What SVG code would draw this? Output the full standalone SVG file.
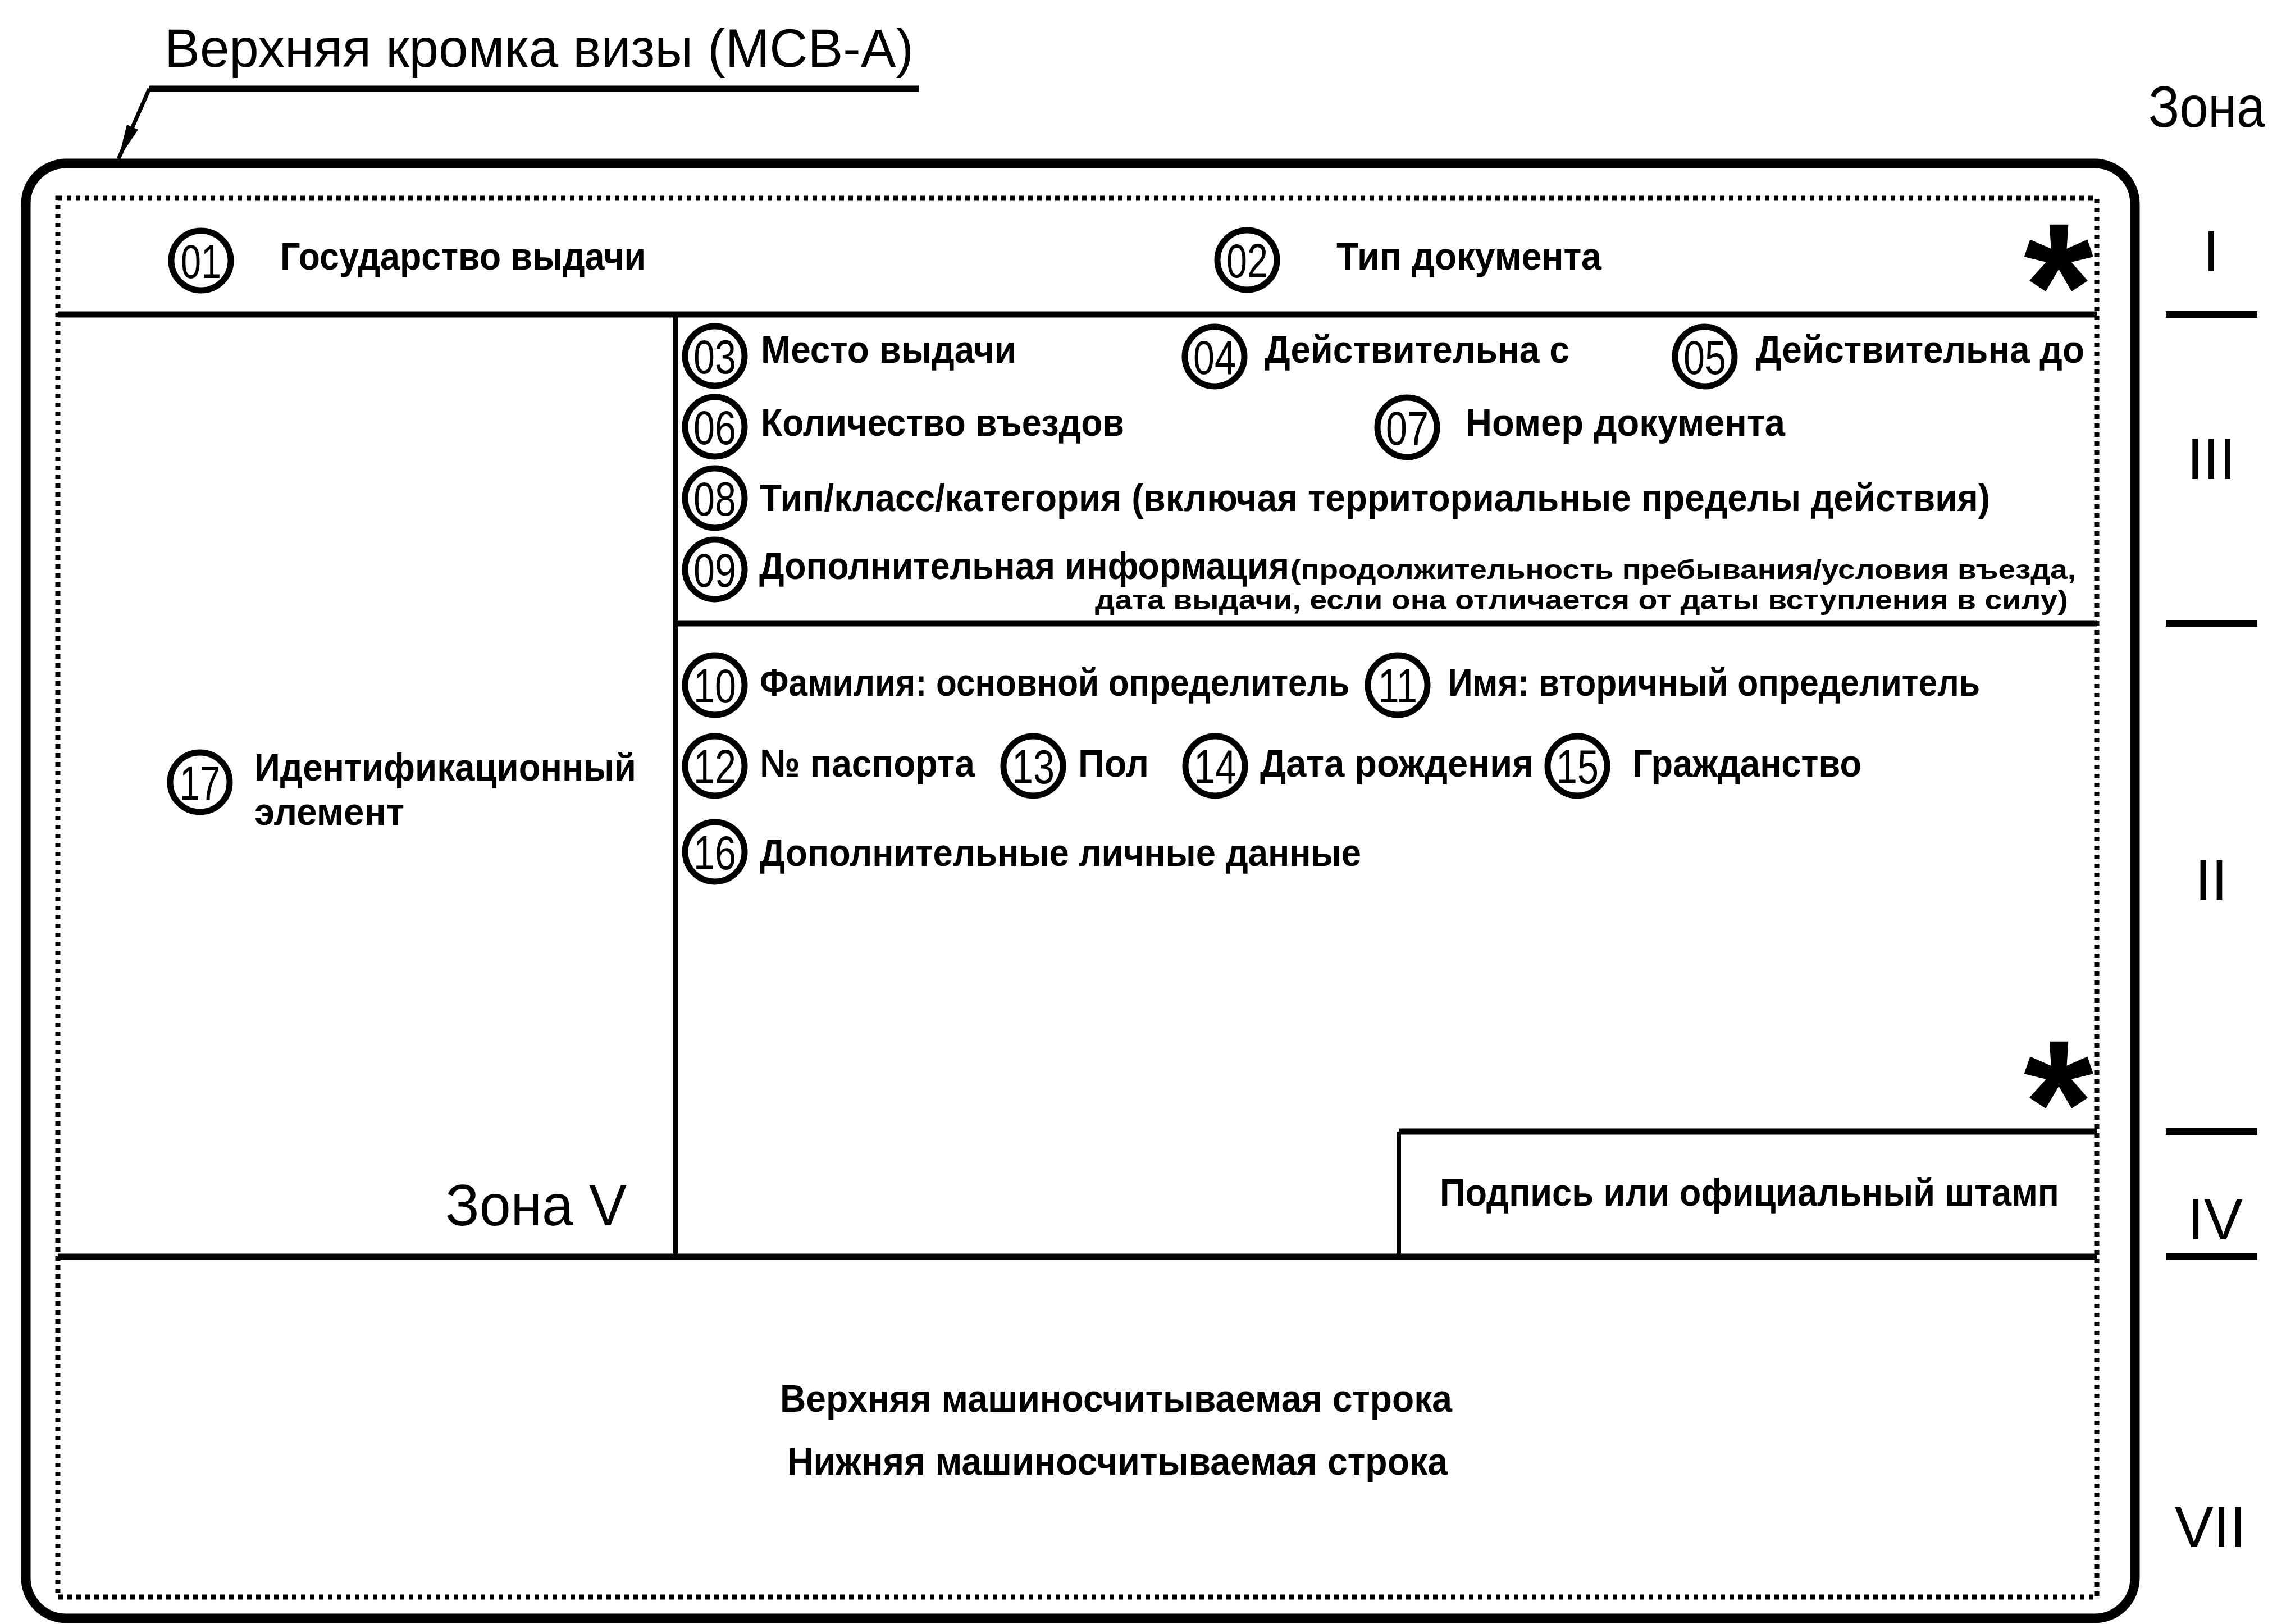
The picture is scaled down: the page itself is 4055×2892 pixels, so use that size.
<svg xmlns="http://www.w3.org/2000/svg" width="4055" height="2892" viewBox="0 0 4055 2892">
<defs>
<style>
.bg{fill:#fff}
.outer{fill:none;stroke:#000;stroke-width:17}
.dotted{fill:none;stroke:#000;stroke-width:9;stroke-dasharray:8 8}
.hline{stroke:#000;stroke-width:11;fill:none}
.vline{stroke:#000;stroke-width:8;fill:none}
.tick{stroke:#000;stroke-width:12;fill:none}
.ring{fill:none;stroke:#000;stroke-width:11}
.num{font-family:"Liberation Sans",Arial,sans-serif;font-size:86px;fill:#000;text-anchor:middle}
.lbl{font-family:"Liberation Sans",Arial,sans-serif;font-size:69px;font-weight:bold;fill:#000}
.small{font-family:"Liberation Sans",Arial,sans-serif;font-size:48px;font-weight:bold;fill:#000}
.zone{font-family:"Liberation Sans",Arial,sans-serif;font-size:104px;fill:#000}
.zr{font-family:"Liberation Sans",Arial,sans-serif;font-size:104px;fill:#000;text-anchor:middle}
.title{font-family:"Liberation Sans",Arial,sans-serif;font-size:96px;fill:#000}
.star{font-family:"Liberation Sans",Arial,sans-serif;font-size:320px;font-weight:bold;fill:#000;text-anchor:middle}
.lead{stroke:#000;fill:none}
</style>
<marker id="arrow" markerUnits="userSpaceOnUse" viewBox="0 0 62 22" refX="62" refY="11" markerWidth="62" markerHeight="22" orient="auto">
<path d="M0,0 L62,11 L0,22 z" fill="#000"/>
</marker>
</defs>
<rect class="bg" x="0" y="0" width="4055" height="2892"/>

<g id="title">
<text class="title" x="293" y="119" textLength="1334" lengthAdjust="spacingAndGlyphs">Верхняя кромка визы (МСВ-А)</text>
</g>

<g id="visa-frame">
<rect class="outer" x="46" y="291" width="3756" height="2591" rx="72" ry="72"/>
<rect class="dotted" x="103" y="353" width="3631" height="2491"/>
<line class="hline" x1="103" y1="560" x2="3734" y2="560"/>
<line class="hline" x1="1203" y1="1110" x2="3734" y2="1110"/>
<line class="hline" x1="2491" y1="2015" x2="3734" y2="2015"/>
<line class="hline" x1="103" y1="2238" x2="3734" y2="2238"/>
<line class="vline" x1="1203" y1="560" x2="1203" y2="2238"/>
<line class="vline" x1="2491" y1="2015" x2="2491" y2="2238"/>
</g>

<g id="zone-scale">
<text class="zone" x="3826" y="226" textLength="208" lengthAdjust="spacingAndGlyphs">Зона</text>
<text class="zr" x="3938" y="483">I</text>
<line class="tick" x1="3857" y1="560" x2="4020" y2="560"/>
<text class="zr" x="3938" y="853">III</text>
<line class="tick" x1="3857" y1="1110" x2="4020" y2="1110"/>
<text class="zr" x="3938" y="1603">II</text>
<line class="tick" x1="3857" y1="2015" x2="4020" y2="2015"/>
<text class="zr" x="3945" y="2207">IV</text>
<line class="tick" x1="3857" y1="2238" x2="4020" y2="2238"/>
<text class="zr" x="3936" y="2755">VII</text>
</g>

<g id="zone-I">
<g id="field-01">
<circle class="ring" cx="358" cy="464" r="53"/>
<text class="num" x="358" y="495" textLength="72" lengthAdjust="spacingAndGlyphs">01</text>
<text class="lbl" x="499" y="480" textLength="651" lengthAdjust="spacingAndGlyphs">Государство выдачи</text>
</g>
<g id="field-02">
<circle class="ring" cx="2221" cy="463" r="53"/>
<text class="num" x="2221" y="494" textLength="74" lengthAdjust="spacingAndGlyphs">02</text>
<text class="lbl" x="2380" y="480" textLength="472" lengthAdjust="spacingAndGlyphs">Тип документа</text>
</g>
<text id="star-1" class="star" x="3666" y="620">*</text>
</g>

<g id="zone-III">
<g id="field-03">
<circle class="ring" cx="1273" cy="634" r="53"/>
<text class="num" x="1273" y="665" textLength="76" lengthAdjust="spacingAndGlyphs">03</text>
<text class="lbl" x="1355" y="646" textLength="455" lengthAdjust="spacingAndGlyphs">Место выдачи</text>
</g>
<g id="field-04">
<circle class="ring" cx="2163" cy="635" r="53"/>
<text class="num" x="2163" y="666" textLength="76" lengthAdjust="spacingAndGlyphs">04</text>
<text class="lbl" x="2252" y="646" textLength="543" lengthAdjust="spacingAndGlyphs">Действительна с</text>
</g>
<g id="field-05">
<circle class="ring" cx="3036" cy="635" r="53"/>
<text class="num" x="3036" y="666" textLength="76" lengthAdjust="spacingAndGlyphs">05</text>
<text class="lbl" x="3127" y="646" textLength="585" lengthAdjust="spacingAndGlyphs">Действительна до</text>
</g>
<g id="field-06">
<circle class="ring" cx="1273" cy="760" r="53"/>
<text class="num" x="1273" y="791" textLength="76" lengthAdjust="spacingAndGlyphs">06</text>
<text class="lbl" x="1355" y="776" textLength="647" lengthAdjust="spacingAndGlyphs">Количество въездов</text>
</g>
<g id="field-07">
<circle class="ring" cx="2506" cy="761" r="53"/>
<text class="num" x="2506" y="792" textLength="76" lengthAdjust="spacingAndGlyphs">07</text>
<text class="lbl" x="2610" y="776" textLength="569" lengthAdjust="spacingAndGlyphs">Номер документа</text>
</g>
<g id="field-08">
<circle class="ring" cx="1273" cy="887" r="53"/>
<text class="num" x="1273" y="918" textLength="76" lengthAdjust="spacingAndGlyphs">08</text>
<text class="lbl" x="1353" y="910" textLength="2191" lengthAdjust="spacingAndGlyphs">Тип/класс/категория (включая территориальные пределы действия)</text>
</g>
<g id="field-09">
<circle class="ring" cx="1273" cy="1014" r="53"/>
<text class="num" x="1273" y="1045" textLength="76" lengthAdjust="spacingAndGlyphs">09</text>
<text class="lbl" x="1352" y="1031" textLength="944" lengthAdjust="spacingAndGlyphs">Дополнительная информация</text>
<text class="small" x="2298" y="1031" textLength="1399" lengthAdjust="spacingAndGlyphs">(продолжительность пребывания/условия въезда,</text>
<text class="small" x="1950" y="1085" textLength="1733" lengthAdjust="spacingAndGlyphs">дата выдачи, если она отличается от даты вступления в силу)</text>
</g>
</g>

<g id="zone-II">
<g id="field-10">
<circle class="ring" cx="1273" cy="1220" r="53"/>
<text class="num" x="1273" y="1251" textLength="76" lengthAdjust="spacingAndGlyphs">10</text>
<text class="lbl" x="1353" y="1239" textLength="1050" lengthAdjust="spacingAndGlyphs">Фамилия: основной определитель</text>
</g>
<g id="field-11">
<circle class="ring" cx="2489" cy="1220" r="53"/>
<text class="num" x="2489" y="1251" textLength="70" lengthAdjust="spacingAndGlyphs">11</text>
<text class="lbl" x="2579" y="1239" textLength="947" lengthAdjust="spacingAndGlyphs">Имя: вторичный определитель</text>
</g>
<g id="field-12">
<circle class="ring" cx="1273" cy="1364" r="53"/>
<text class="num" x="1273" y="1395" textLength="76" lengthAdjust="spacingAndGlyphs">12</text>
<text class="lbl" x="1353" y="1383" textLength="383" lengthAdjust="spacingAndGlyphs">№ паспорта</text>
</g>
<g id="field-13">
<circle class="ring" cx="1840" cy="1364" r="53"/>
<text class="num" x="1840" y="1395" textLength="76" lengthAdjust="spacingAndGlyphs">13</text>
<text class="lbl" x="1920" y="1383" textLength="126" lengthAdjust="spacingAndGlyphs">Пол</text>
</g>
<g id="field-14">
<circle class="ring" cx="2164" cy="1364" r="53"/>
<text class="num" x="2164" y="1395" textLength="76" lengthAdjust="spacingAndGlyphs">14</text>
<text class="lbl" x="2244" y="1383" textLength="487" lengthAdjust="spacingAndGlyphs">Дата рождения</text>
</g>
<g id="field-15">
<circle class="ring" cx="2809" cy="1364" r="53"/>
<text class="num" x="2809" y="1395" textLength="76" lengthAdjust="spacingAndGlyphs">15</text>
<text class="lbl" x="2907" y="1383" textLength="408" lengthAdjust="spacingAndGlyphs">Гражданство</text>
</g>
<g id="field-16">
<circle class="ring" cx="1273" cy="1517" r="53"/>
<text class="num" x="1273" y="1548" textLength="76" lengthAdjust="spacingAndGlyphs">16</text>
<text class="lbl" x="1353" y="1542" textLength="1071" lengthAdjust="spacingAndGlyphs">Дополнительные личные данные</text>
</g>
<text id="star-2" class="star" x="3666" y="2075">*</text>
</g>

<g id="zone-V">
<g id="field-17">
<circle class="ring" cx="356" cy="1393" r="53"/>
<text class="num" x="356" y="1424" textLength="72" lengthAdjust="spacingAndGlyphs">17</text>
<text class="lbl" x="453" y="1390" textLength="680" lengthAdjust="spacingAndGlyphs">Идентификационный</text>
<text class="lbl" x="453" y="1469" textLength="267" lengthAdjust="spacingAndGlyphs">элемент</text>
</g>
<text class="zone" x="793" y="2182" textLength="323" lengthAdjust="spacingAndGlyphs">Зона V</text>
</g>

<g id="zone-IV">
<text class="lbl" x="2564" y="2147" textLength="1103" lengthAdjust="spacingAndGlyphs">Подпись или официальный штамп</text>
</g>

<g id="zone-VII">
<text class="lbl" x="1389" y="2514" textLength="1197" lengthAdjust="spacingAndGlyphs">Верхняя машиносчитываемая строка</text>
<text class="lbl" x="1402" y="2626" textLength="1176" lengthAdjust="spacingAndGlyphs">Нижняя машиносчитываемая строка</text>
</g>

<g id="connectors">
<line class="lead" x1="1636" y1="158" x2="266" y2="158" stroke-width="11"/>
<line class="lead" x1="266" y1="158" x2="211" y2="283" stroke-width="7" marker-end="url(#arrow)"/>
</g>
</svg>
